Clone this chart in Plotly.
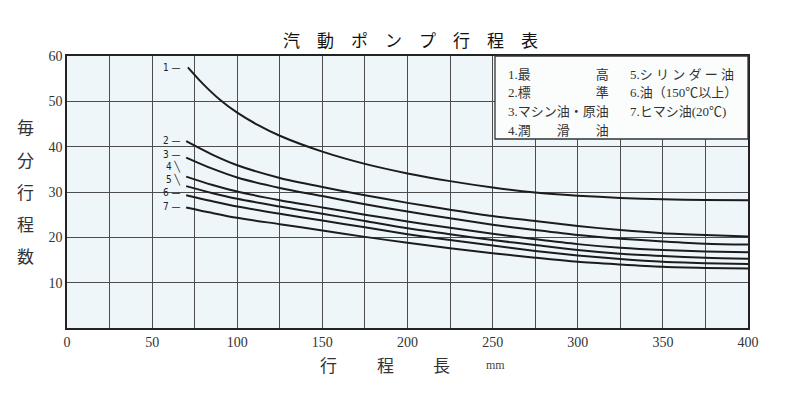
import plotly.graph_objects as go

# ---- data ----
stroke_c1 = [71, 80, 90, 100, 112, 125, 150, 175, 200, 225, 250, 275, 300, 325, 350, 375, 400]
rate_c1 = [57.5, 53.8, 50.3, 47.5, 44.8, 42.4, 38.9, 36.2, 34.1, 32.4, 31.0, 29.9, 29.2, 28.7, 28.4, 28.25, 28.2]

stroke = [70, 85, 100, 125, 150, 175, 200, 225, 250, 275, 300, 325, 350, 375, 400]
rate_c2 = [41.2, 38.3, 35.9, 33.1, 31.1, 29.3, 27.6, 26.1, 24.7, 23.6, 22.5, 21.6, 20.9, 20.5, 20.2]
rate_c3 = [37.6, 35.2, 33.2, 30.9, 29.1, 27.3, 25.7, 24.2, 22.8, 21.6, 20.5, 19.7, 19.1, 18.6, 18.4]
rate_c4 = [33.4, 31.6, 30.1, 28.2, 26.6, 25.0, 23.5, 22.1, 20.8, 19.6, 18.5, 17.7, 17.2, 16.9, 16.7]
rate_c5 = [31.3, 29.8, 28.5, 26.8, 25.2, 23.6, 22.0, 20.7, 19.4, 18.3, 17.2, 16.4, 15.9, 15.5, 15.3]
rate_c6 = [29.3, 28.0, 26.8, 25.2, 23.7, 22.2, 20.7, 19.4, 18.2, 17.0, 16.0, 15.2, 14.6, 14.3, 14.1]
rate_c7 = [26.6, 25.4, 24.3, 22.9, 21.5, 20.1, 18.8, 17.6, 16.5, 15.5, 14.6, 14.0, 13.5, 13.25, 13.1]

curve_labels = ["1 —", "2 —", "3 —", "4 ╲", "5 ╲", "6 —", "7 —"]
curve_label_y = [57.5, 41.3, 38.3, 35.6, 32.7, 29.8, 26.8]

x_ticks = [0, 50, 100, 150, 200, 250, 300, 350, 400]
y_ticks = [10, 20, 30, 40, 50, 60]

title_text = "汽　動　ポ　ン　プ　行　程　表"
y_title_chars = ["毎", "分", "行", "程", "数"]
x_title_chars = ["行", "程", "長"]
x_unit = "mm"

legend_col1 = ["1.最　　　　　高", "2.標　　　　　準", "3.マシン油・原油", "4.潤　　滑　　油"]
legend_col2 = ["5.シ リ ン ダ ー 油", "6.油（150℃以上）", "7.ヒマシ油(20℃)"]

# ---- figure ----
fig = go.Figure()
series = [(stroke_c1, rate_c1), (stroke, rate_c2), (stroke, rate_c3), (stroke, rate_c4),
          (stroke, rate_c5), (stroke, rate_c6), (stroke, rate_c7)]
for xs, ys in series:
    fig.add_trace(go.Scatter(x=xs, y=ys, mode="lines",
                             line=dict(color="#1c1c1c", width=2, shape="spline", smoothing=0.8),
                             showlegend=False, hoverinfo="skip"))

serif = "Liberation Serif, Noto Sans CJK JP, serif"
cjk = "Noto Sans CJK JP, sans-serif"

# plot area in page pixels: left 67, top 56, width 681, height 272
PL, PT, PW, PH = 67, 56, 681, 272


def px(xp):
    return (xp - PL) / PW


def py(yp):
    return (PT + PH - yp) / PH


annotations = []
for lab, yv in zip(curve_labels, curve_label_y):
    annotations.append(dict(x=68, y=yv, xref="x", yref="y", text=lab, showarrow=False,
                            xanchor="right", yanchor="middle",
                            font=dict(family="Liberation Sans Narrow, DejaVu Sans Condensed, sans-serif",
                                      size=10, color="#222")))

annotations.append(dict(x=px(410), y=py(40), xref="paper", yref="paper", text=title_text,
                        showarrow=False, xanchor="center", yanchor="middle",
                        font=dict(family=cjk, size=17, color="#111")))

for i, ch in enumerate(y_title_chars):
    annotations.append(dict(x=px(25), y=py(127 + i * 32), xref="paper", yref="paper",
                            text=ch, showarrow=False, xanchor="center", yanchor="middle",
                            font=dict(family=cjk, size=17, color="#333")))

for i, ch in enumerate(x_title_chars):
    annotations.append(dict(x=px(328 + i * 57), y=py(364), xref="paper", yref="paper",
                            text=ch, showarrow=False, xanchor="center", yanchor="middle",
                            font=dict(family=cjk, size=17, color="#333")))
annotations.append(dict(x=px(495), y=py(365), xref="paper", yref="paper",
                        text=x_unit, showarrow=False, xanchor="center", yanchor="middle",
                        font=dict(family=serif, size=12, color="#444")))

for i, t in enumerate(legend_col1):
    annotations.append(dict(x=px(506), y=py(74 + i * 18.7), xref="paper", yref="paper",
                            text=t, showarrow=False, xanchor="left", yanchor="middle",
                            font=dict(family=serif, size=13, color="#333")))
for i, t in enumerate(legend_col2):
    annotations.append(dict(x=px(628), y=py(74 + i * 18.7), xref="paper", yref="paper",
                            text=t, showarrow=False, xanchor="left", yanchor="middle",
                            font=dict(family=serif, size=13, color="#333")))

shapes = [dict(type="rect", xref="paper", yref="paper",
               x0=px(495), x1=1, y0=py(139), y1=1,
               fillcolor="#fbfdfd", line=dict(color="#333", width=1.3), layer="above")]

grid_col = "#4d4d4d"
# the page body adds an 8px offset, so the figure is 8px smaller and margins shifted
fig.update_layout(
    width=792, height=385,
    margin=dict(l=PL - 8, r=800 - PL - PW, t=PT - 8, b=385 - (PT - 8) - PH),
    paper_bgcolor="white",
    plot_bgcolor="#eef6f9",
    showlegend=False,
    annotations=annotations,
    shapes=shapes,
    xaxis=dict(range=[0, 400], tickvals=x_ticks, ticktext=[str(v) for v in x_ticks],
               showgrid=True, gridcolor=grid_col, gridwidth=1.2,
               minor=dict(dtick=25, showgrid=True, gridcolor=grid_col, gridwidth=1.2),
               showline=True, linecolor="#222", linewidth=1.6, mirror=True,
               zeroline=False, ticks="", automargin=False,
               tickfont=dict(family=serif, size=14, color="#333")),
    yaxis=dict(range=[0, 60], tickvals=y_ticks, ticktext=[str(v) for v in y_ticks],
               showgrid=True, gridcolor=grid_col, gridwidth=1.2,
               showline=True, linecolor="#222", linewidth=1.6, mirror=True,
               zeroline=False, ticks="", automargin=False,
               tickfont=dict(family=serif, size=14, color="#333")),
)

fig.write_html("out.html")
